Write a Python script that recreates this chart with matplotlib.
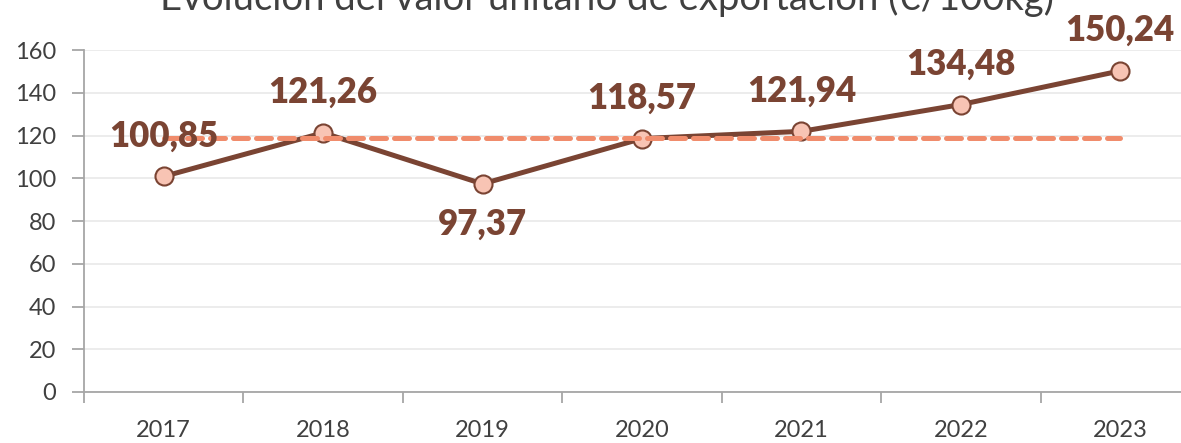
import matplotlib.pyplot as plt
from matplotlib.ticker import MultipleLocator, FixedLocator

years = ['2017', '2018', '2019', '2020', '2021', '2022', '2023']
valores = [100.85, 121.26, 97.37, 118.57, 121.94, 134.48, 150.24]
media = 118.6
etiquetas_abajo = ['2019']

marron = '#7A4433'
salmon = '#F08C6C'
relleno = '#F8C4B4'
gris = '#A6A6A6'

plt.rcParams['font.family'] = ['Lato', 'DejaVu Sans']

fig = plt.figure(figsize=(11.81, 4.43), dpi=100)
ax = fig.add_axes([84 / 1181, 51 / 443, 1116 / 1181, 342 / 443])

x = list(range(len(years)))
ax.plot(x, valores, color=marron, lw=3.6, marker='o', ms=13,
        markerfacecolor=relleno, markeredgecolor=marron, markeredgewidth=1.5, zorder=3)
ax.plot(x, [media] * len(x), color=salmon, lw=3.6, ls=(0, (3, 1.6)),
        dash_capstyle='round', zorder=4)

for xi, v, yr in zip(x, valores, years):
    off = -29 if yr in etiquetas_abajo else 29
    ax.annotate(f'{v:.2f}'.replace('.', ','), (xi, v), xytext=(0, off),
                textcoords='offset points', ha='center', va='center',
                fontsize=25, fontweight='heavy', color=marron, zorder=5)

ax.set_xlim(-0.5, len(years) - 0.5)
ax.set_ylim(0, 160)
ax.yaxis.set_major_locator(MultipleLocator(20))
ax.grid(axis='y', color='#EBEBEB', lw=1.3)
ax.set_axisbelow(True)

ax.set_xticks(x)
ax.set_xticklabels(years)
ax.xaxis.set_minor_locator(FixedLocator([i - 0.5 for i in range(len(years) + 1)]))
ax.tick_params(axis='x', which='major', length=0, pad=20, labelsize=17, labelcolor='#404040')
ax.tick_params(axis='x', which='minor', length=8, width=1.3, color=gris)
ax.tick_params(axis='y', length=9, width=1.3, color=gris, labelsize=17, labelcolor='#404040', pad=11)

for s in ['top', 'right']:
    ax.spines[s].set_visible(False)
for s in ['left', 'bottom']:
    ax.spines[s].set_color(gris)
    ax.spines[s].set_linewidth(1.3)

fig.text(607, 443 - 10, 'Evolución del valor unitario de exportación (€/100kg)',
         transform=None, ha='center', va='baseline', fontsize=27.5, color='#404040')

fig.savefig('out.png', dpi=100)
